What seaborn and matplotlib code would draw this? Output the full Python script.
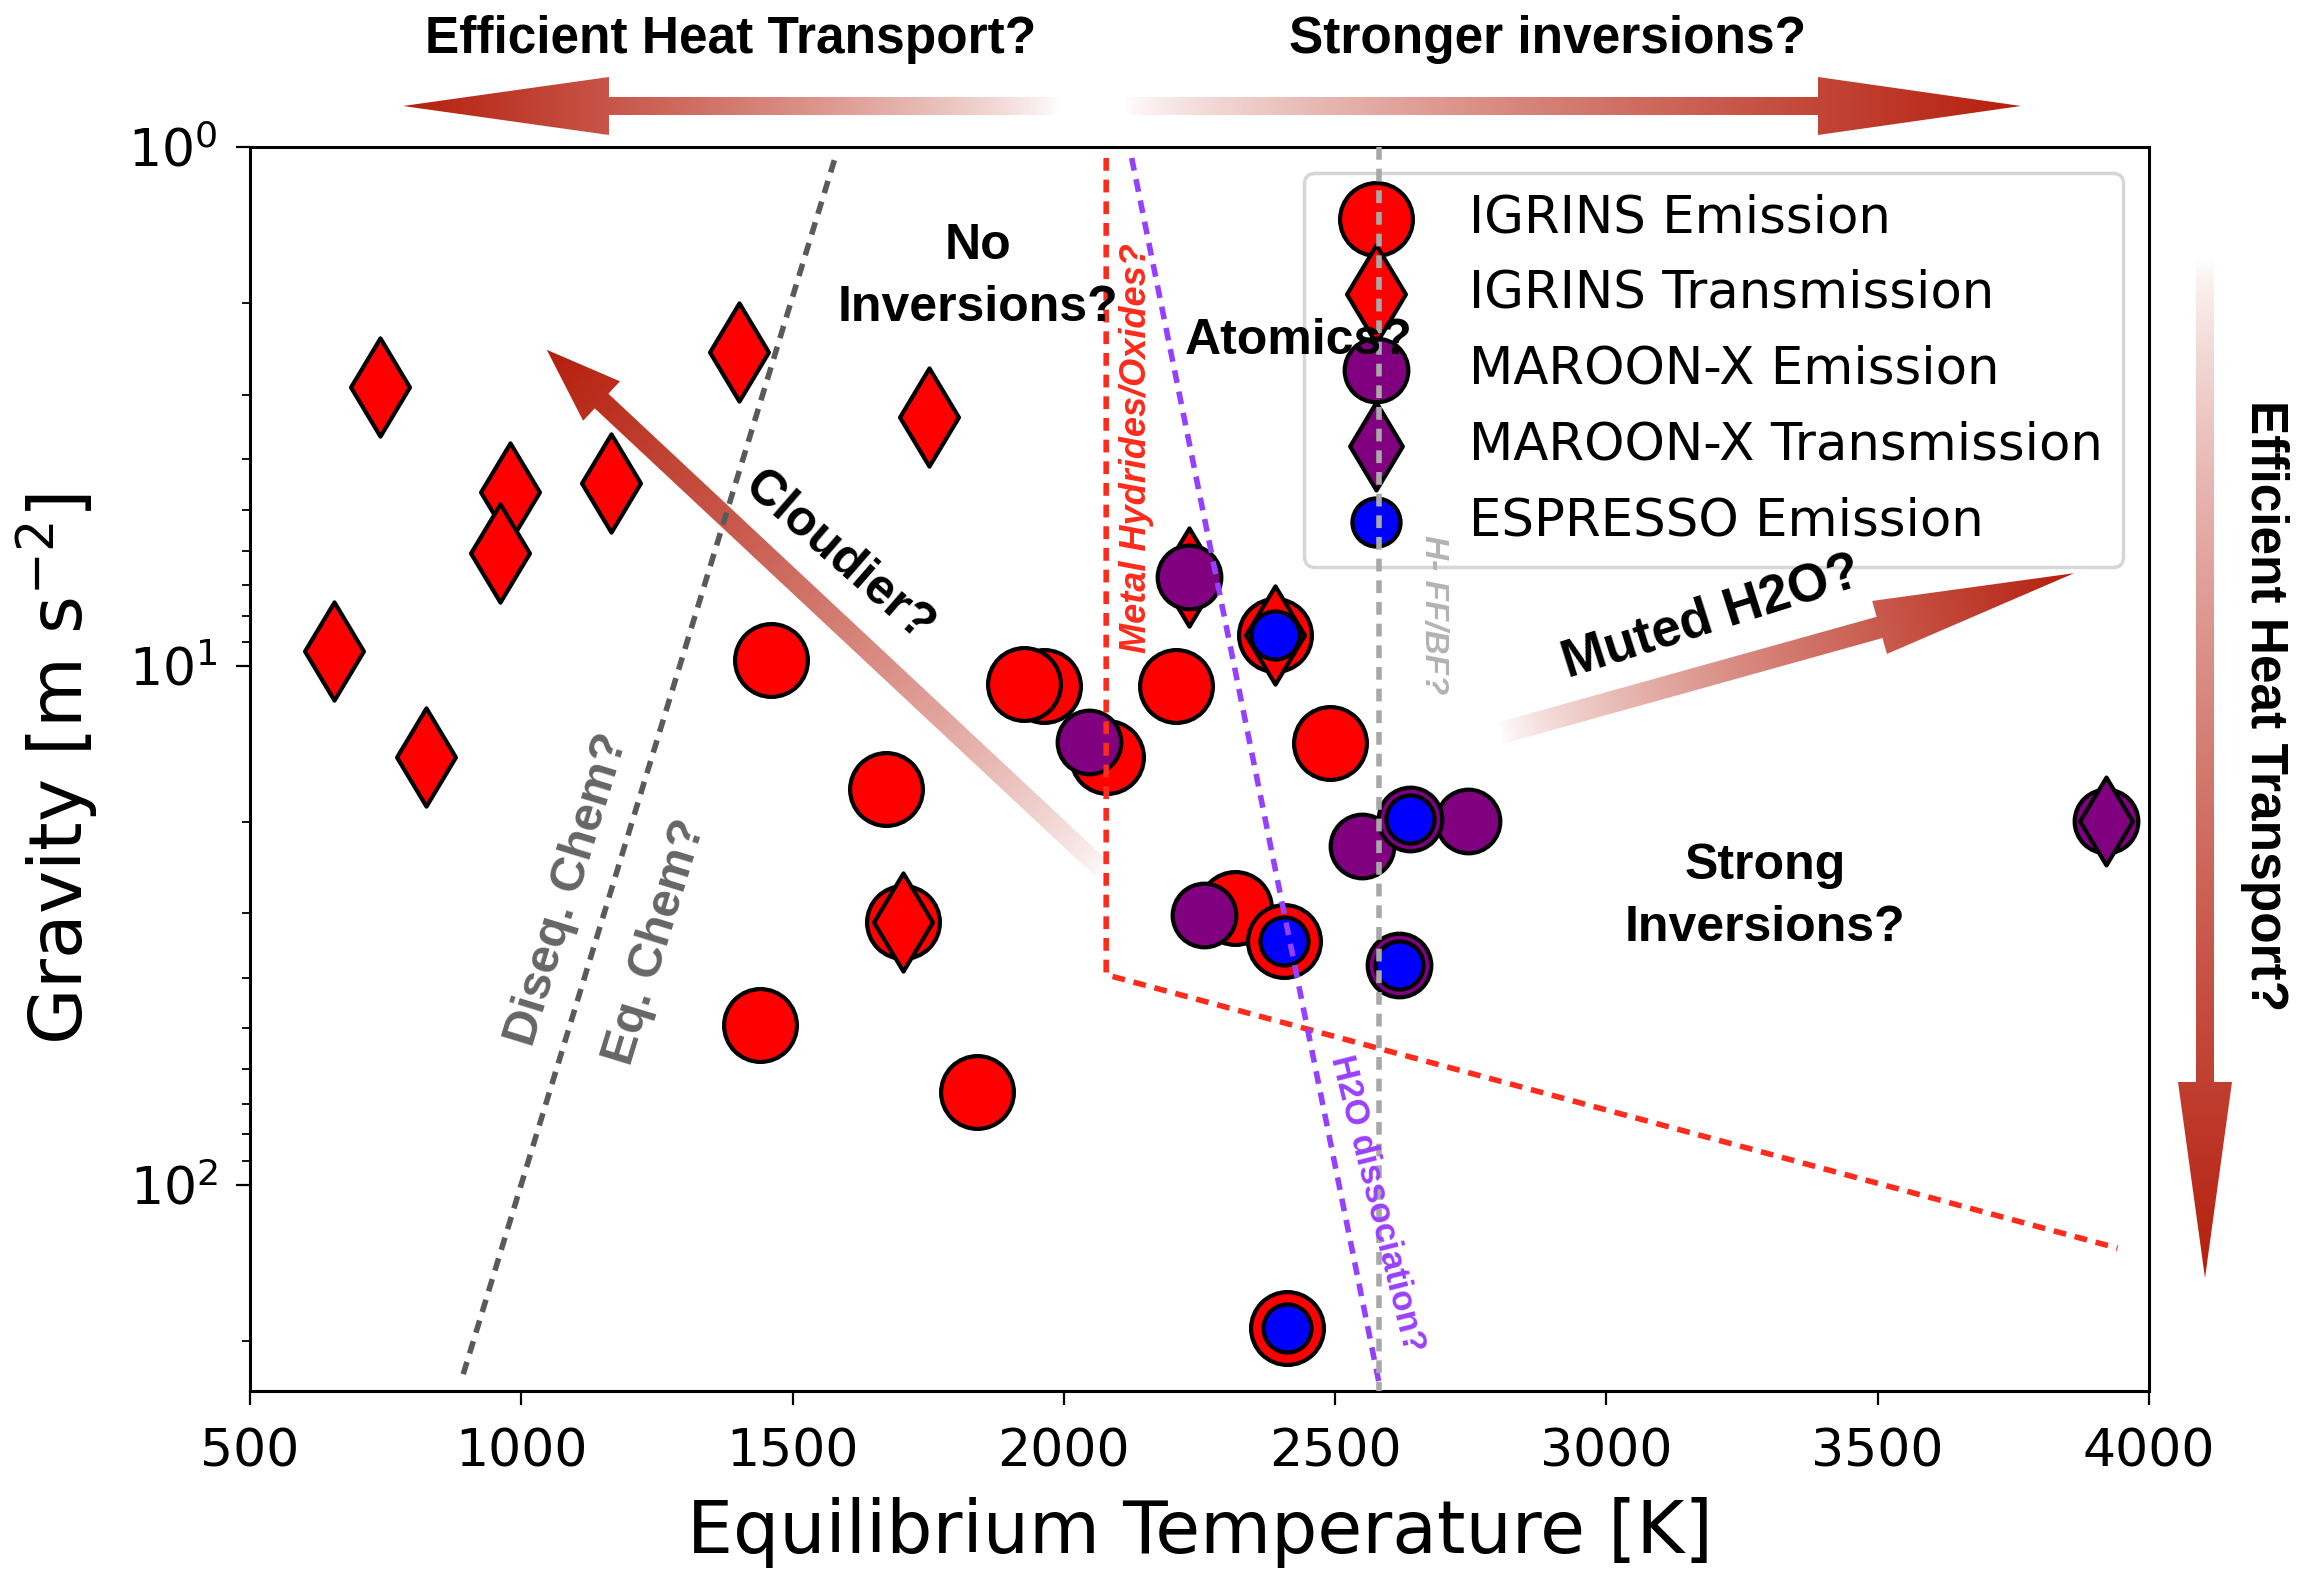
import numpy as np
import matplotlib
matplotlib.use("Agg")
import matplotlib.pyplot as plt
import seaborn as sns
from matplotlib.patches import Polygon
from matplotlib.ticker import NullFormatter, FixedLocator

# ---------------- data ----------------
igrins_em_teq = [1963, 1926, 1460, 1672, 1440, 1839, 1704, 2079, 2207, 2490, 2315, 2405, 2412, 2389]
igrins_em_g = [10.95, 10.85, 9.73, 17.3, 49.3, 66.3, 31.2, 15.0, 10.96, 14.1, 29.3, 33.9, 189, 8.73]

igrins_tr_teq = [739, 654, 825, 979, 960, 1166, 1402, 1751, 1704, 2389, 2231]
igrins_tr_g = [2.90, 9.35, 15.0, 4.63, 6.05, 4.45, 2.48, 3.31, 31.2, 8.73, 6.75]

maroon_em_teq = [2047, 2231, 2259, 2550, 2744, 2638, 2617, 3921]
maroon_em_g = [14.0, 6.75, 30.2, 22.3, 19.9, 19.7, 37.7, 19.9]

maroon_tr_teq = [3921]
maroon_tr_g = [19.9]

espresso_em_teq = [2389, 2405, 2638, 2617, 2412]
espresso_em_g = [8.73, 33.9, 19.7, 37.7, 189]

# regime boundary lines
chem_x = [893, 1577]
chem_g = [232, 1.06]
hydride_x = [2078, 2078, 3942]
hydride_g = [1.05, 39.4, 132.6]
h2o_x = [2125, 2581]
h2o_g = [1.05, 241.6]
hff_x = [2580, 2580]
hff_g = [1.0, 250]

x_ticks = [500, 1000, 1500, 2000, 2500, 3000, 3500, 4000]

# ---------------- style ----------------
sns.set_theme(style="ticks")
plt.rcParams["font.family"] = ["DejaVu Sans"]
plt.rcParams["axes.edgecolor"] = "black"
plt.rcParams["xtick.color"] = "black"
plt.rcParams["ytick.color"] = "black"
plt.rcParams["text.color"] = "black"
plt.rcParams["axes.labelcolor"] = "black"

W, H, DPI = 2305, 1572, 100
fig = plt.figure(figsize=(W / DPI, H / DPI), dpi=DPI, facecolor="white")

# overlay axes in pixel units (for gradient arrows), drawn beneath the data axes
oax = fig.add_axes([0, 0, 1, 1], zorder=0)
oax.set_xlim(0, W)
oax.set_ylim(0, H)
oax.set_autoscale_on(False)
oax.axis("off")

ax = fig.add_axes([250 / W, 181 / H, (2149 - 250) / W, (1391 - 147) / H], zorder=1)
ax.patch.set_visible(False)
ax.set_yscale("log")
ax.set_xlim(500, 4000)
ax.set_ylim(250, 1)

BOLD = ["Liberation Sans", "DejaVu Sans"]

# ---------------- scatter series ----------------
sns.scatterplot(x=igrins_em_teq, y=igrins_em_g, ax=ax, marker="o", s=2750, color="red",
                edgecolor="black", linewidth=3, label="IGRINS Emission", zorder=2)
sns.scatterplot(x=igrins_tr_teq, y=igrins_tr_g, ax=ax, marker="d", s=2500, color="red",
                edgecolor="black", linewidth=3, label="IGRINS Transmission", zorder=2.1)
sns.scatterplot(x=maroon_em_teq, y=maroon_em_g, ax=ax, marker="o", s=2100, color="purple",
                edgecolor="black", linewidth=3, label="MAROON-X Emission", zorder=2.2)
sns.scatterplot(x=maroon_tr_teq, y=maroon_tr_g, ax=ax, marker="d", s=2000, color="purple",
                edgecolor="black", linewidth=3, label="MAROON-X Transmission", zorder=2.3)
sns.scatterplot(x=espresso_em_teq, y=espresso_em_g, ax=ax, marker="o", s=1200, color="blue",
                edgecolor="black", linewidth=3, label="ESPRESSO Emission", zorder=2.4)

# ---------------- boundary lines ----------------
dash = (2.3, 1.6)
ax.plot(chem_x, chem_g, color="#5a5a5a", lw=4, dashes=dash, zorder=6)
ax.plot(hydride_x, hydride_g, color="#ff2b1c", lw=4, dashes=dash, zorder=6)
ax.plot(h2o_x, h2o_g, color="#9540ff", lw=4, dashes=dash, zorder=6)
ax.plot(hff_x, hff_g, color="#a8a8a8", lw=4, dashes=dash, zorder=6)

# ---------------- axes cosmetics ----------------
ax.xaxis.set_major_locator(FixedLocator(x_ticks))
ax.set_xticklabels([str(t) for t in x_ticks])
ax.yaxis.set_minor_formatter(NullFormatter())
ax.tick_params(axis="both", which="major", labelsize=37.5, length=10, width=1.6, direction="out")
ax.tick_params(axis="x", which="major", pad=16)
ax.tick_params(axis="y", which="major", pad=13)
ax.tick_params(axis="y", which="minor", length=6, width=1.3, direction="out")
for sp in ax.spines.values():
    sp.set_visible(True)
    sp.set_linewidth(2.2)
    sp.set_color("black")
ax.set_xlabel("Equilibrium Temperature [K]", fontsize=52.5, labelpad=14)
ax.set_ylabel("Gravity [m s$^{-2}$]", fontsize=52.5, labelpad=20)

leg = ax.legend(loc="upper right", fontsize=37, labelspacing=0.5, borderpad=0.4,
                handletextpad=0.8, frameon=True, framealpha=0.8, edgecolor="0.8",
                fancybox=True, scatterpoints=1)
leg.get_frame().set_linewidth(2.5)
leg.get_frame().set_facecolor("white")
leg.set_zorder(5)

# ---------------- annotations ----------------
def atext(x, y, s, **kw):
    base = dict(ha="center", va="center", rotation_mode="anchor", zorder=8, color="black")
    base.update(kw)
    ax.text(x, y, s, **base)

atext(1841, 1.78, "No\nInversions?", fontsize=36, fontweight="bold", family=BOLD, linespacing=1.45)
atext(2432, 2.37, "Atomics?", fontsize=36, fontweight="bold", family=BOLD)
atext(3293, 27.9, "Strong\nInversions?", fontsize=36, fontweight="bold", family=BOLD, linespacing=1.45)
atext(1584, 6.16, "Cloudier?", fontsize=36, fontweight="bold", family=BOLD, rotation=-41)
atext(3193, 8.07, "Muted H2O?", fontsize=38, fontweight="bold", family=BOLD, rotation=17.6)
atext(2133, 3.81, "Metal Hydrides/Oxides?", fontsize=26, fontweight="bold", fontstyle="italic",
      family=BOLD, rotation=90, color="#ff2b1c")
atext(2578, 109, "H2O dissociation?", fontsize=25, fontweight="bold", family=BOLD,
      rotation=-76, color="#9a40ff")
atext(2681, 7.96, "H- FF/BF?", fontsize=24, fontweight="bold", fontstyle="italic", family=BOLD,
      rotation=-90, color="#b3b3b3")
atext(1085, 27.0, "Diseq. Chem?", fontsize=35, fontweight="bold", family=BOLD, rotation=73, color="#666666")
atext(1248, 34.1, "Eq. Chem?", fontsize=35, fontweight="bold", family=BOLD, rotation=73, color="#666666")

fig.text(731 / W, 1 - 53 / H, "Efficient Heat Transport?", ha="center", va="baseline",
         fontsize=37, fontweight="bold", family=BOLD, color="black")
fig.text(1548 / W, 1 - 53 / H, "Stronger inversions?", ha="center", va="baseline",
         fontsize=37, fontweight="bold", family=BOLD, color="black")
fig.text(2265 / W, 1 - 706 / H, "Efficient Heat Transport?", ha="center", va="center",
         rotation=-90, fontsize=37, fontweight="bold", family=BOLD, color="black")

# ---------------- gradient arrows ----------------
ARROW_RED = np.array([0.71, 0.12, 0.05])


def grad_arrow(tail, tip, shaft_w, head_w, head_len):
    tail = np.asarray(tail, float)
    tip = np.asarray(tip, float)
    d = tip - tail
    L = np.hypot(*d)
    u = d / L
    n = np.array([-u[1], u[0]])
    base = tip - u * head_len
    verts = np.array([tail + n * shaft_w / 2, base + n * shaft_w / 2, base + n * head_w / 2, tip,
                      base - n * head_w / 2, base - n * shaft_w / 2, tail - n * shaft_w / 2])
    x0, y0 = verts.min(0) - 2
    x1, y1 = verts.max(0) + 2
    nx = int(x1 - x0) + 2
    ny = int(y1 - y0) + 2
    X, Y = np.meshgrid(np.linspace(x0, x1, nx), np.linspace(y0, y1, ny))
    t = ((X - tail[0]) * u[0] + (Y - tail[1]) * u[1]) / L
    t = np.clip(t, 0, 1) ** 0.75
    img = (1 - t)[..., None] * np.ones(3) + t[..., None] * ARROW_RED
    patch = Polygon(verts, closed=True, fc="none", ec="none", transform=oax.transData)
    oax.add_patch(patch)
    im = oax.imshow(img, extent=[x0, x1, y0, y1], origin="lower", interpolation="bilinear",
                    aspect="auto", zorder=1)
    im.set_clip_path(patch)


def data_px(x, y):
    return ax.transData.transform((x, y))


# top arrows (figure pixels, y measured from bottom)
grad_arrow((1058, H - 106), (403, H - 106), 18, 58, 206)
grad_arrow((1125, H - 106), (2021, H - 106), 18, 58, 203)
# right vertical arrow
grad_arrow((2205, H - 259), (2205, H - 1278), 18, 54, 196)
# in-plot arrows
grad_arrow(data_px(2080, 25.2), data_px(1047, 2.46), 20, 54, 75)
grad_arrow(data_px(2803, 13.5), data_px(3862, 6.63), 22, 55, 202)

oax.set_xlim(0, W)
oax.set_ylim(0, H)

fig.savefig("out.png", dpi=DPI, facecolor="white")
